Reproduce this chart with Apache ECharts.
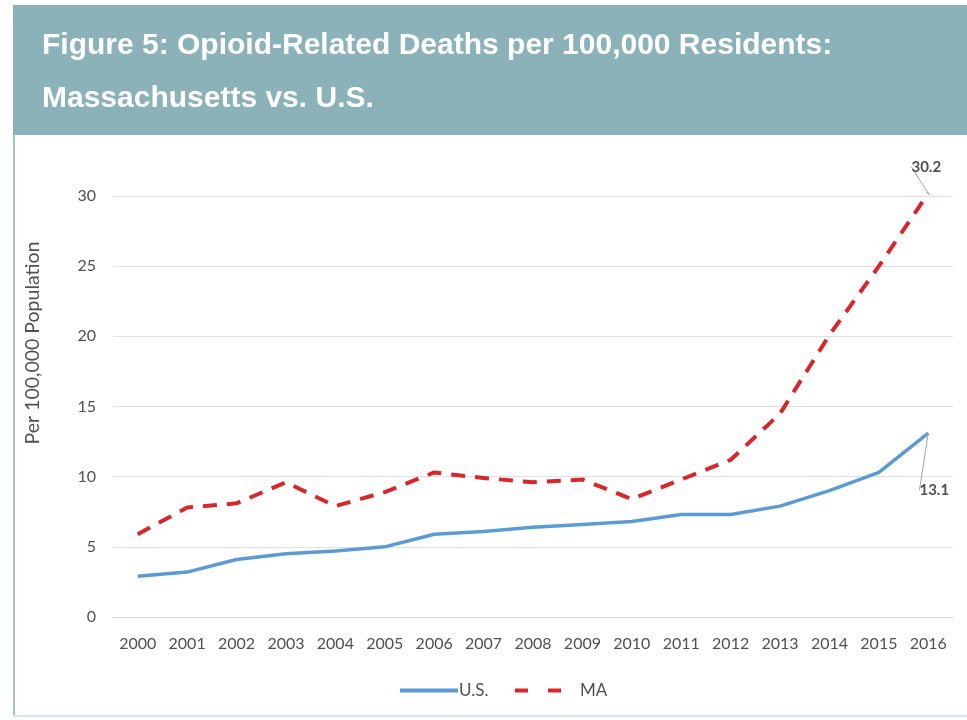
<!DOCTYPE html>
<html>
<head>
<meta charset="utf-8">
<script src="https://cdn.jsdelivr.net/npm/echarts@6/dist/echarts.min.js"></script>
<style>
  html, body { margin: 0; padding: 0; background: #ffffff; }
  #chart { width: 967px; height: 720px; }
</style>
</head>
<body>
<div id="chart"></div>
<script>
// Opioid-related deaths per 100,000 residents, 2000-2016
const years = ['2000','2001','2002','2003','2004','2005','2006','2007','2008',
               '2009','2010','2011','2012','2013','2014','2015','2016'];
const usRates = [2.9, 3.2, 4.1, 4.5, 4.7, 5.0, 5.9, 6.1, 6.4, 6.6, 6.8, 7.3, 7.3, 7.9, 9.0, 10.3, 13.1];
const maRates = [5.9, 7.8, 8.1, 9.6, 7.9, 8.9, 10.3, 9.9, 9.6, 9.8, 8.4, 9.8, 11.2, 14.5, 20.1, 25.0, 30.2];
const yTicks = [0, 5, 10, 15, 20, 25, 30];

const chart = echarts.init(document.getElementById('chart'), null, { renderer: 'canvas' });

const labelFont = 'Lato, "Open Sans", sans-serif';
const textGray = '#505050';
const last = years.length - 1;

// the last point of each series carries its value label
function withEndLabel(values) {
  return values.map((v, i) => i === last ? {
    value: v,
    label: {
      show: true,
      position: 'inside',
      formatter: '{c}',
      color: textGray,
      fontFamily: labelFont,
      fontWeight: 'bold',
      fontSize: 15
    }
  } : v);
}

// value labels are pulled away from the line end, joined by a thin guide
function endLabelLayout(dx, dy) {
  return function () { return { dx: dx, dy: dy }; };
}
const guide = { show: true, lineStyle: { color: '#a6a6a6', width: 1 } };

chart.setOption({
  animation: false,
  backgroundColor: '#ffffff',
  graphic: [
    { type: 'rect', shape: { x: 13, y: 5, width: 954, height: 130 }, style: { fill: '#8ab2b8' }, z: 0 },
    { type: 'rect', shape: { x: 13, y: 135, width: 2, height: 582 }, style: { fill: '#9ec6cb' }, z: 0 },
    { type: 'rect', shape: { x: 13, y: 715, width: 954, height: 2 }, style: { fill: '#d3e6ea' }, z: 0 },
    {
      type: 'text', x: 33, y: 343, rotation: Math.PI / 2,
      style: {
        text: 'Per 100,000 Population', fill: textGray,
        font: '19.5px ' + labelFont, align: 'center', verticalAlign: 'middle'
      }
    }
  ],
  title: {
    text: 'Figure 5: Opioid-Related Deaths per 100,000 Residents:\nMassachusetts vs. U.S.',
    left: 37, top: 14,
    textStyle: {
      color: '#ffffff', fontFamily: '"Liberation Sans", Arial, sans-serif',
      fontWeight: 'bold', fontSize: 30, lineHeight: 53
    }
  },
  legend: [
    {
      left: 395, top: 677,
      itemWidth: 58, itemHeight: 4, itemGap: 0,
      textStyle: { color: textGray, fontFamily: labelFont, fontSize: 17, padding: [0, 0, 0, -4] },
      data: [{ name: 'U.S.', icon: 'rect' }]
    },
    {
      left: 510, top: 677,
      itemWidth: 46, itemHeight: 4, itemGap: 0,
      textStyle: { color: textGray, fontFamily: labelFont, fontSize: 17, padding: [0, 0, 0, 14] },
      data: [{ name: 'MA', icon: 'path://M0,0h13v4h-13z M33,0h13v4h-13z' }]
    }
  ],
  grid: { left: 113, right: 14, top: 196, bottom: 103 },
  xAxis: {
    type: 'category',
    data: years,
    boundaryGap: true,
    axisLine: { lineStyle: { color: '#d9d9d9', width: 1 } },
    axisTick: { show: false },
    axisLabel: { color: textGray, fontFamily: labelFont, fontSize: 16, margin: 19 }
  },
  yAxis: {
    type: 'value',
    min: yTicks[0], max: yTicks[yTicks.length - 1], interval: 5,
    axisLine: { show: false },
    axisTick: { show: false },
    axisLabel: { color: textGray, fontFamily: labelFont, fontSize: 16, margin: 17 },
    splitLine: { lineStyle: { color: '#e0e0e0', width: 1 } }
  },
  series: [
    {
      name: 'U.S.', type: 'line', data: withEndLabel(usRates),
      symbol: 'circle', symbolSize: 0, showSymbol: true, clip: false,
      lineStyle: { color: '#5b9bd5', width: 3.5 },
      itemStyle: { color: '#5b9bd5' },
      labelLine: guide,
      labelLayout: endLabelLayout(6, 57)
    },
    {
      name: 'MA', type: 'line', data: withEndLabel(maRates),
      symbol: 'circle', symbolSize: 0, showSymbol: true, clip: false,
      lineStyle: { color: '#d9262b', width: 4, type: [14, 10] },
      itemStyle: { color: '#d9262b' },
      labelLine: guide,
      labelLayout: endLabelLayout(-2, -26)
    }
  ]
});
</script>
</body>
</html>
